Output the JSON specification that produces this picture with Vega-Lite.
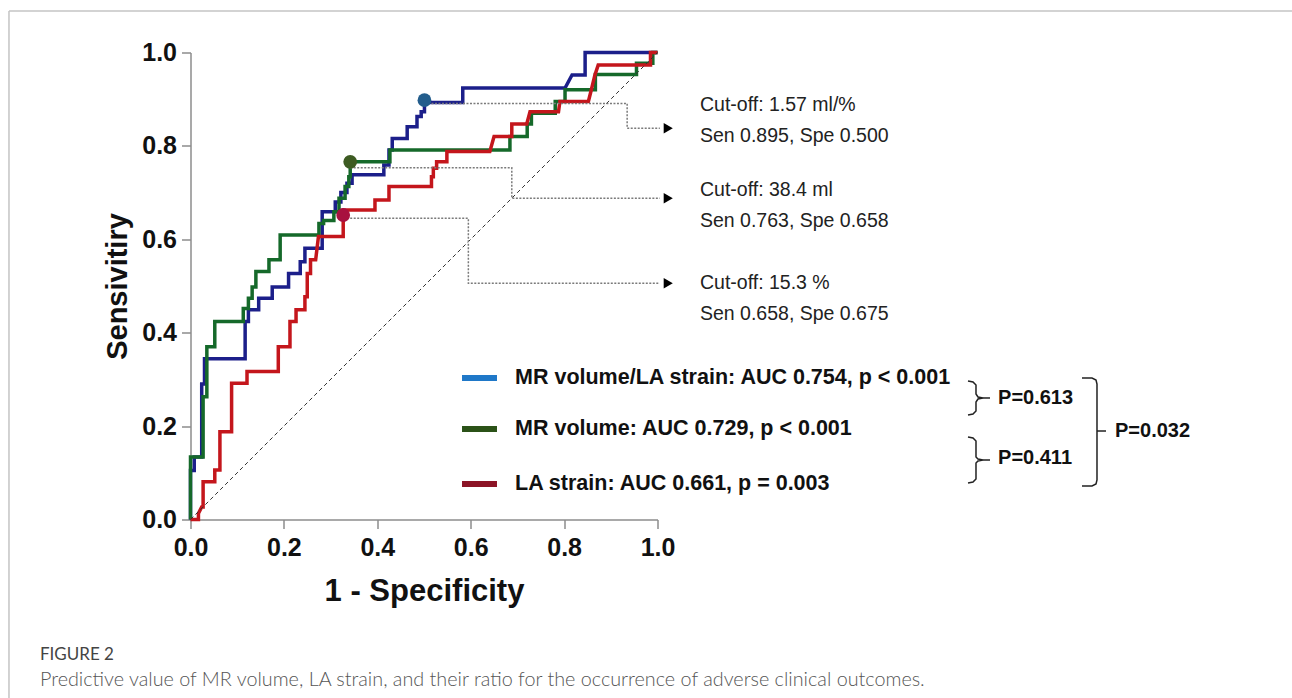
{
  "$schema": "https://vega.github.io/schema/vega-lite/v6.json",
  "width": 467,
  "height": 467,
  "autosize": {"type": "none"},
  "padding": {"left": 190.5, "top": 52.5, "right": 634.5, "bottom": 178.5},
  "background": "white",
  "config": {"view": {"stroke": null}, "font": "Liberation Sans"},
  "data": {"values": [{"one": 1}]},
  "datasets": {
    "roc": [
      {"series": "ratio", "i": 0, "fpr": 0, "tpr": 0},
      {"series": "ratio", "i": 1, "fpr": 0, "tpr": 0.105},
      {"series": "ratio", "i": 2, "fpr": 0.008, "tpr": 0.105},
      {"series": "ratio", "i": 3, "fpr": 0.008, "tpr": 0.134},
      {"series": "ratio", "i": 4, "fpr": 0.024, "tpr": 0.134},
      {"series": "ratio", "i": 5, "fpr": 0.024, "tpr": 0.29},
      {"series": "ratio", "i": 6, "fpr": 0.03, "tpr": 0.29},
      {"series": "ratio", "i": 7, "fpr": 0.03, "tpr": 0.344},
      {"series": "ratio", "i": 8, "fpr": 0.117, "tpr": 0.344},
      {"series": "ratio", "i": 9, "fpr": 0.117, "tpr": 0.424},
      {"series": "ratio", "i": 10, "fpr": 0.124, "tpr": 0.424},
      {"series": "ratio", "i": 11, "fpr": 0.124, "tpr": 0.449},
      {"series": "ratio", "i": 12, "fpr": 0.146, "tpr": 0.449},
      {"series": "ratio", "i": 13, "fpr": 0.146, "tpr": 0.474},
      {"series": "ratio", "i": 14, "fpr": 0.175, "tpr": 0.474},
      {"series": "ratio", "i": 15, "fpr": 0.175, "tpr": 0.498},
      {"series": "ratio", "i": 16, "fpr": 0.21, "tpr": 0.498},
      {"series": "ratio", "i": 17, "fpr": 0.21, "tpr": 0.527},
      {"series": "ratio", "i": 18, "fpr": 0.235, "tpr": 0.527},
      {"series": "ratio", "i": 19, "fpr": 0.235, "tpr": 0.552},
      {"series": "ratio", "i": 20, "fpr": 0.245, "tpr": 0.552},
      {"series": "ratio", "i": 21, "fpr": 0.245, "tpr": 0.581},
      {"series": "ratio", "i": 22, "fpr": 0.282, "tpr": 0.581},
      {"series": "ratio", "i": 23, "fpr": 0.282, "tpr": 0.659},
      {"series": "ratio", "i": 24, "fpr": 0.31, "tpr": 0.659},
      {"series": "ratio", "i": 25, "fpr": 0.31, "tpr": 0.68},
      {"series": "ratio", "i": 26, "fpr": 0.322, "tpr": 0.68},
      {"series": "ratio", "i": 27, "fpr": 0.322, "tpr": 0.7},
      {"series": "ratio", "i": 28, "fpr": 0.335, "tpr": 0.7},
      {"series": "ratio", "i": 29, "fpr": 0.335, "tpr": 0.72},
      {"series": "ratio", "i": 30, "fpr": 0.346, "tpr": 0.72},
      {"series": "ratio", "i": 31, "fpr": 0.346, "tpr": 0.738},
      {"series": "ratio", "i": 32, "fpr": 0.414, "tpr": 0.738},
      {"series": "ratio", "i": 33, "fpr": 0.414, "tpr": 0.759},
      {"series": "ratio", "i": 34, "fpr": 0.425, "tpr": 0.759},
      {"series": "ratio", "i": 35, "fpr": 0.425, "tpr": 0.791},
      {"series": "ratio", "i": 36, "fpr": 0.432, "tpr": 0.791},
      {"series": "ratio", "i": 37, "fpr": 0.432, "tpr": 0.816},
      {"series": "ratio", "i": 38, "fpr": 0.464, "tpr": 0.816},
      {"series": "ratio", "i": 39, "fpr": 0.464, "tpr": 0.841},
      {"series": "ratio", "i": 40, "fpr": 0.485, "tpr": 0.841},
      {"series": "ratio", "i": 41, "fpr": 0.485, "tpr": 0.863},
      {"series": "ratio", "i": 42, "fpr": 0.494, "tpr": 0.863},
      {"series": "ratio", "i": 43, "fpr": 0.494, "tpr": 0.873},
      {"series": "ratio", "i": 44, "fpr": 0.501, "tpr": 0.873},
      {"series": "ratio", "i": 45, "fpr": 0.501, "tpr": 0.893},
      {"series": "ratio", "i": 46, "fpr": 0.583, "tpr": 0.893},
      {"series": "ratio", "i": 47, "fpr": 0.583, "tpr": 0.924},
      {"series": "ratio", "i": 48, "fpr": 0.802, "tpr": 0.924},
      {"series": "ratio", "i": 49, "fpr": 0.817, "tpr": 0.952},
      {"series": "ratio", "i": 50, "fpr": 0.845, "tpr": 0.952},
      {"series": "ratio", "i": 51, "fpr": 0.845, "tpr": 1.0},
      {"series": "ratio", "i": 52, "fpr": 1.0, "tpr": 1.0},
      {"series": "volume", "i": 0, "fpr": 0, "tpr": 0},
      {"series": "volume", "i": 1, "fpr": 0, "tpr": 0.134},
      {"series": "volume", "i": 2, "fpr": 0.027, "tpr": 0.134},
      {"series": "volume", "i": 3, "fpr": 0.027, "tpr": 0.263},
      {"series": "volume", "i": 4, "fpr": 0.035, "tpr": 0.263},
      {"series": "volume", "i": 5, "fpr": 0.035, "tpr": 0.37},
      {"series": "volume", "i": 6, "fpr": 0.052, "tpr": 0.37},
      {"series": "volume", "i": 7, "fpr": 0.052, "tpr": 0.424},
      {"series": "volume", "i": 8, "fpr": 0.113, "tpr": 0.424},
      {"series": "volume", "i": 9, "fpr": 0.113, "tpr": 0.452},
      {"series": "volume", "i": 10, "fpr": 0.124, "tpr": 0.452},
      {"series": "volume", "i": 11, "fpr": 0.124, "tpr": 0.474},
      {"series": "volume", "i": 12, "fpr": 0.132, "tpr": 0.474},
      {"series": "volume", "i": 13, "fpr": 0.132, "tpr": 0.498},
      {"series": "volume", "i": 14, "fpr": 0.14, "tpr": 0.498},
      {"series": "volume", "i": 15, "fpr": 0.14, "tpr": 0.531},
      {"series": "volume", "i": 16, "fpr": 0.168, "tpr": 0.531},
      {"series": "volume", "i": 17, "fpr": 0.168, "tpr": 0.556},
      {"series": "volume", "i": 18, "fpr": 0.192, "tpr": 0.556},
      {"series": "volume", "i": 19, "fpr": 0.192, "tpr": 0.609},
      {"series": "volume", "i": 20, "fpr": 0.275, "tpr": 0.609},
      {"series": "volume", "i": 21, "fpr": 0.275, "tpr": 0.634},
      {"series": "volume", "i": 22, "fpr": 0.285, "tpr": 0.634},
      {"series": "volume", "i": 23, "fpr": 0.285, "tpr": 0.64},
      {"series": "volume", "i": 24, "fpr": 0.307, "tpr": 0.64},
      {"series": "volume", "i": 25, "fpr": 0.307, "tpr": 0.659},
      {"series": "volume", "i": 26, "fpr": 0.318, "tpr": 0.659},
      {"series": "volume", "i": 27, "fpr": 0.318, "tpr": 0.688},
      {"series": "volume", "i": 28, "fpr": 0.331, "tpr": 0.688},
      {"series": "volume", "i": 29, "fpr": 0.331, "tpr": 0.713},
      {"series": "volume", "i": 30, "fpr": 0.339, "tpr": 0.713},
      {"series": "volume", "i": 31, "fpr": 0.339, "tpr": 0.734},
      {"series": "volume", "i": 32, "fpr": 0.342, "tpr": 0.734},
      {"series": "volume", "i": 33, "fpr": 0.342, "tpr": 0.766},
      {"series": "volume", "i": 34, "fpr": 0.427, "tpr": 0.766},
      {"series": "volume", "i": 35, "fpr": 0.427, "tpr": 0.791},
      {"series": "volume", "i": 36, "fpr": 0.684, "tpr": 0.791},
      {"series": "volume", "i": 37, "fpr": 0.684, "tpr": 0.82},
      {"series": "volume", "i": 38, "fpr": 0.721, "tpr": 0.82},
      {"series": "volume", "i": 39, "fpr": 0.721, "tpr": 0.847},
      {"series": "volume", "i": 40, "fpr": 0.73, "tpr": 0.847},
      {"series": "volume", "i": 41, "fpr": 0.73, "tpr": 0.87},
      {"series": "volume", "i": 42, "fpr": 0.781, "tpr": 0.87},
      {"series": "volume", "i": 43, "fpr": 0.781, "tpr": 0.895},
      {"series": "volume", "i": 44, "fpr": 0.802, "tpr": 0.895},
      {"series": "volume", "i": 45, "fpr": 0.802, "tpr": 0.92},
      {"series": "volume", "i": 46, "fpr": 0.867, "tpr": 0.92},
      {"series": "volume", "i": 47, "fpr": 0.867, "tpr": 0.953},
      {"series": "volume", "i": 48, "fpr": 0.955, "tpr": 0.953},
      {"series": "volume", "i": 49, "fpr": 0.955, "tpr": 0.977},
      {"series": "volume", "i": 50, "fpr": 0.99, "tpr": 0.977},
      {"series": "volume", "i": 51, "fpr": 0.99, "tpr": 1.0},
      {"series": "volume", "i": 52, "fpr": 1.0, "tpr": 1.0},
      {"series": "strain", "i": 0, "fpr": 0, "tpr": 0},
      {"series": "strain", "i": 1, "fpr": 0.017, "tpr": 0},
      {"series": "strain", "i": 2, "fpr": 0.017, "tpr": 0.013},
      {"series": "strain", "i": 3, "fpr": 0.024, "tpr": 0.027},
      {"series": "strain", "i": 4, "fpr": 0.027, "tpr": 0.027},
      {"series": "strain", "i": 5, "fpr": 0.027, "tpr": 0.081},
      {"series": "strain", "i": 6, "fpr": 0.052, "tpr": 0.081},
      {"series": "strain", "i": 7, "fpr": 0.052, "tpr": 0.106},
      {"series": "strain", "i": 8, "fpr": 0.063, "tpr": 0.106},
      {"series": "strain", "i": 9, "fpr": 0.063, "tpr": 0.188},
      {"series": "strain", "i": 10, "fpr": 0.088, "tpr": 0.188},
      {"series": "strain", "i": 11, "fpr": 0.088, "tpr": 0.292},
      {"series": "strain", "i": 12, "fpr": 0.121, "tpr": 0.292},
      {"series": "strain", "i": 13, "fpr": 0.121, "tpr": 0.317},
      {"series": "strain", "i": 14, "fpr": 0.188, "tpr": 0.317},
      {"series": "strain", "i": 15, "fpr": 0.188, "tpr": 0.37},
      {"series": "strain", "i": 16, "fpr": 0.213, "tpr": 0.37},
      {"series": "strain", "i": 17, "fpr": 0.213, "tpr": 0.424},
      {"series": "strain", "i": 18, "fpr": 0.226, "tpr": 0.424},
      {"series": "strain", "i": 19, "fpr": 0.226, "tpr": 0.449},
      {"series": "strain", "i": 20, "fpr": 0.245, "tpr": 0.449},
      {"series": "strain", "i": 21, "fpr": 0.245, "tpr": 0.477},
      {"series": "strain", "i": 22, "fpr": 0.25, "tpr": 0.477},
      {"series": "strain", "i": 23, "fpr": 0.25, "tpr": 0.527},
      {"series": "strain", "i": 24, "fpr": 0.257, "tpr": 0.527},
      {"series": "strain", "i": 25, "fpr": 0.257, "tpr": 0.556},
      {"series": "strain", "i": 26, "fpr": 0.268, "tpr": 0.556},
      {"series": "strain", "i": 27, "fpr": 0.274, "tpr": 0.606},
      {"series": "strain", "i": 28, "fpr": 0.327, "tpr": 0.606},
      {"series": "strain", "i": 29, "fpr": 0.327, "tpr": 0.663},
      {"series": "strain", "i": 30, "fpr": 0.395, "tpr": 0.663},
      {"series": "strain", "i": 31, "fpr": 0.395, "tpr": 0.684},
      {"series": "strain", "i": 32, "fpr": 0.425, "tpr": 0.684},
      {"series": "strain", "i": 33, "fpr": 0.425, "tpr": 0.713},
      {"series": "strain", "i": 34, "fpr": 0.516, "tpr": 0.713},
      {"series": "strain", "i": 35, "fpr": 0.516, "tpr": 0.734},
      {"series": "strain", "i": 36, "fpr": 0.52, "tpr": 0.734},
      {"series": "strain", "i": 37, "fpr": 0.52, "tpr": 0.752},
      {"series": "strain", "i": 38, "fpr": 0.527, "tpr": 0.752},
      {"series": "strain", "i": 39, "fpr": 0.527, "tpr": 0.766},
      {"series": "strain", "i": 40, "fpr": 0.549, "tpr": 0.766},
      {"series": "strain", "i": 41, "fpr": 0.549, "tpr": 0.788},
      {"series": "strain", "i": 42, "fpr": 0.641, "tpr": 0.788},
      {"series": "strain", "i": 43, "fpr": 0.65, "tpr": 0.82},
      {"series": "strain", "i": 44, "fpr": 0.688, "tpr": 0.82},
      {"series": "strain", "i": 45, "fpr": 0.688, "tpr": 0.847},
      {"series": "strain", "i": 46, "fpr": 0.72, "tpr": 0.847},
      {"series": "strain", "i": 47, "fpr": 0.727, "tpr": 0.873},
      {"series": "strain", "i": 48, "fpr": 0.788, "tpr": 0.873},
      {"series": "strain", "i": 49, "fpr": 0.791, "tpr": 0.895},
      {"series": "strain", "i": 50, "fpr": 0.852, "tpr": 0.895},
      {"series": "strain", "i": 51, "fpr": 0.859, "tpr": 0.923},
      {"series": "strain", "i": 52, "fpr": 0.866, "tpr": 0.952},
      {"series": "strain", "i": 53, "fpr": 0.873, "tpr": 0.973},
      {"series": "strain", "i": 54, "fpr": 0.985, "tpr": 0.973},
      {"series": "strain", "i": 55, "fpr": 0.985, "tpr": 1.0},
      {"series": "strain", "i": 56, "fpr": 1.0, "tpr": 1.0}
    ],
    "cut": [
      {"series": "ratio", "fpr": 0.501, "tpr": 0.898},
      {"series": "volume", "fpr": 0.342, "tpr": 0.766},
      {"series": "strain", "fpr": 0.327, "tpr": 0.652}
    ],
    "conn": [
      {"g": 1, "i": 0, "fpr": 0.501, "tpr": 0.891},
      {"g": 1, "i": 1, "fpr": 0.935, "tpr": 0.891},
      {"g": 1, "i": 2, "fpr": 0.935, "tpr": 0.838},
      {"g": 1, "i": 3, "fpr": 1.005, "tpr": 0.838},
      {"g": 2, "i": 0, "fpr": 0.342, "tpr": 0.753},
      {"g": 2, "i": 1, "fpr": 0.688, "tpr": 0.753},
      {"g": 2, "i": 2, "fpr": 0.688, "tpr": 0.688},
      {"g": 2, "i": 3, "fpr": 1.005, "tpr": 0.688},
      {"g": 3, "i": 0, "fpr": 0.327, "tpr": 0.645},
      {"g": 3, "i": 1, "fpr": 0.595, "tpr": 0.645},
      {"g": 3, "i": 2, "fpr": 0.595, "tpr": 0.506},
      {"g": 3, "i": 3, "fpr": 1.005, "tpr": 0.506}
    ],
    "arrows": [
      {"fpr": 1.023, "tpr": 0.838},
      {"fpr": 1.023, "tpr": 0.688},
      {"fpr": 1.023, "tpr": 0.506}
    ],
    "brackets": [
      {"b": "a", "i": 0, "fpr": 1.6649, "tpr": 0.2966},
      {"b": "a", "i": 1, "fpr": 1.6756, "tpr": 0.2944},
      {"b": "a", "i": 2, "fpr": 1.682, "tpr": 0.288},
      {"b": "a", "i": 3, "fpr": 1.682, "tpr": 0.2687},
      {"b": "a", "i": 4, "fpr": 1.6863, "tpr": 0.2623},
      {"b": "a", "i": 5, "fpr": 1.697, "tpr": 0.2602},
      {"b": "a", "i": 6, "fpr": 1.6863, "tpr": 0.258},
      {"b": "a", "i": 7, "fpr": 1.682, "tpr": 0.2516},
      {"b": "a", "i": 8, "fpr": 1.682, "tpr": 0.2323},
      {"b": "a", "i": 9, "fpr": 1.6756, "tpr": 0.2259},
      {"b": "a", "i": 10, "fpr": 1.6649, "tpr": 0.2238},
      {"b": "at", "i": 0, "fpr": 1.697, "tpr": 0.2602},
      {"b": "at", "i": 1, "fpr": 1.712, "tpr": 0.2602},
      {"b": "c", "i": 0, "fpr": 1.6649, "tpr": 0.1767},
      {"b": "c", "i": 1, "fpr": 1.6756, "tpr": 0.1745},
      {"b": "c", "i": 2, "fpr": 1.682, "tpr": 0.1681},
      {"b": "c", "i": 3, "fpr": 1.682, "tpr": 0.1338},
      {"b": "c", "i": 4, "fpr": 1.6863, "tpr": 0.1296},
      {"b": "c", "i": 5, "fpr": 1.697, "tpr": 0.1274},
      {"b": "c", "i": 6, "fpr": 1.6863, "tpr": 0.1253},
      {"b": "c", "i": 7, "fpr": 1.682, "tpr": 0.121},
      {"b": "c", "i": 8, "fpr": 1.682, "tpr": 0.0867},
      {"b": "c", "i": 9, "fpr": 1.6756, "tpr": 0.0803},
      {"b": "c", "i": 10, "fpr": 1.6649, "tpr": 0.0782},
      {"b": "ct", "i": 0, "fpr": 1.697, "tpr": 0.1274},
      {"b": "ct", "i": 1, "fpr": 1.712, "tpr": 0.1274},
      {"b": "e", "i": 0, "fpr": 1.909, "tpr": 0.303},
      {"b": "e", "i": 1, "fpr": 1.9304, "tpr": 0.303},
      {"b": "e", "i": 2, "fpr": 1.939, "tpr": 0.2987},
      {"b": "e", "i": 3, "fpr": 1.9411, "tpr": 0.2901},
      {"b": "e", "i": 4, "fpr": 1.9411, "tpr": 0.0846},
      {"b": "e", "i": 5, "fpr": 1.939, "tpr": 0.076},
      {"b": "e", "i": 6, "fpr": 1.9304, "tpr": 0.0717},
      {"b": "e", "i": 7, "fpr": 1.909, "tpr": 0.0717},
      {"b": "et", "i": 0, "fpr": 1.9411, "tpr": 0.1895},
      {"b": "et", "i": 1, "fpr": 1.9604, "tpr": 0.1895}
    ]
  },
  "layer": [
    {
      "data": {"name": "roc"},
      "mark": {"type": "line", "strokeWidth": 3.5, "strokeJoin": "miter"},
      "encoding": {
        "x": {
          "field": "fpr", "type": "quantitative",
          "scale": {"domain": [0, 1], "nice": false, "zero": false},
          "axis": {
            "title": "1 - Specificity", "values": [0, 0.2, 0.4, 0.6, 0.8, 1.0], "format": ".1f", "grid": false, "labelFlush": false,
            "domainColor": "#8c8c8c", "domainWidth": 1.5, "tickColor": "#8c8c8c", "tickWidth": 1.5, "tickSize": 9,
            "labelFont": "Liberation Sans", "labelFontWeight": "bold", "labelFontSize": 25, "labelColor": "#111111", "labelPadding": 7,
            "titleFont": "Liberation Sans", "titleFontWeight": "bold", "titleFontSize": 31, "titleColor": "#111111", "titlePadding": 16
          }
        },
        "y": {
          "field": "tpr", "type": "quantitative",
          "scale": {"domain": [0, 1], "nice": false, "zero": false},
          "axis": {
            "title": "Sensivitiry", "values": [0, 0.2, 0.4, 0.6, 0.8, 1.0], "format": ".1f", "grid": false, "labelFlush": false,
            "domainColor": "#8c8c8c", "domainWidth": 1.5, "tickColor": "#8c8c8c", "tickWidth": 1.5, "tickSize": 9,
            "labelFont": "Liberation Sans", "labelFontWeight": "bold", "labelFontSize": 25, "labelColor": "#111111", "labelPadding": 5,
            "titleFont": "Liberation Sans", "titleFontWeight": "bold", "titleFontSize": 29, "titleColor": "#111111", "titlePadding": 9
          }
        },
        "stroke": {
          "field": "series", "type": "nominal",
          "scale": {"domain": ["strain", "volume", "ratio"], "range": ["#c4161c", "#15692a", "#1c1f8a"]},
          "legend": null
        },
        "order": {"field": "i", "type": "quantitative"}
      }
    },
    {
      "mark": {"type": "rule", "color": "#c4c4c4", "strokeWidth": 1.5},
      "encoding": {
        "x": {"datum": -0.3887, "type": "quantitative"},
        "x2": {"datum": 2.36},
        "y": {"datum": 1.0889, "type": "quantitative"}
      }
    },
    {
      "mark": {"type": "rule", "color": "#c4c4c4", "strokeWidth": 1.5},
      "encoding": {
        "x": {"datum": -0.3887, "type": "quantitative"},
        "y": {"datum": 1.0889, "type": "quantitative"},
        "y2": {"datum": -0.39}
      }
    },
    {
      "mark": {"type": "rule", "color": "#333333", "strokeWidth": 1, "strokeDash": [4, 3]},
      "encoding": {
        "x": {"datum": 0, "type": "quantitative"},
        "y": {"datum": 0, "type": "quantitative"},
        "x2": {"datum": 1},
        "y2": {"datum": 1}
      }
    },
    {
      "data": {"name": "conn"},
      "mark": {"type": "line", "color": "#7a7a7a", "strokeWidth": 1.5, "strokeDash": [2, 1.5]},
      "encoding": {
        "x": {"field": "fpr", "type": "quantitative"},
        "y": {"field": "tpr", "type": "quantitative"},
        "detail": {"field": "g", "type": "nominal"},
        "order": {"field": "i", "type": "quantitative"}
      }
    },
    {
      "data": {"name": "cut"},
      "mark": {"type": "point", "filled": true, "size": 190, "opacity": 1, "shape": "circle"},
      "encoding": {
        "x": {"field": "fpr", "type": "quantitative"},
        "y": {"field": "tpr", "type": "quantitative"},
        "fill": {
          "field": "series", "type": "nominal",
          "scale": {"domain": ["ratio", "volume", "strain"], "range": ["#235d8c", "#3d5b22", "#a8113f"]},
          "legend": null
        }
      }
    },
    {
      "data": {"name": "arrows"},
      "mark": {"type": "point", "filled": true, "shape": "triangle-right", "size": 110, "color": "#000000", "opacity": 1},
      "encoding": {
        "x": {"field": "fpr", "type": "quantitative"},
        "y": {"field": "tpr", "type": "quantitative"}
      }
    },
    {
      "mark": {"type": "text", "align": "left", "baseline": "middle", "font": "Liberation Sans", "fontSize": 19.5, "lineHeight": 31, "color": "#222222"},
      "encoding": {
        "x": {"datum": 1.091, "type": "quantitative"},
        "y": {"datum": 0.8876, "type": "quantitative"},
        "text": {"value": ["Cut-off:  1.57 ml/%", "Sen 0.895, Spe 0.500"]}
      }
    },
    {
      "mark": {"type": "text", "align": "left", "baseline": "middle", "font": "Liberation Sans", "fontSize": 19.5, "lineHeight": 31, "color": "#222222"},
      "encoding": {
        "x": {"datum": 1.091, "type": "quantitative"},
        "y": {"datum": 0.7056, "type": "quantitative"},
        "text": {"value": ["Cut-off:  38.4 ml", "Sen 0.763, Spe 0.658"]}
      }
    },
    {
      "mark": {"type": "text", "align": "left", "baseline": "middle", "font": "Liberation Sans", "fontSize": 19.5, "lineHeight": 31, "color": "#222222"},
      "encoding": {
        "x": {"datum": 1.091, "type": "quantitative"},
        "y": {"datum": 0.5064, "type": "quantitative"},
        "text": {"value": ["Cut-off:  15.3 %", "Sen 0.658, Spe 0.675"]}
      }
    },
    {
      "mark": {"type": "rule", "color": "#1f78c8", "strokeWidth": 6},
      "encoding": {
        "x": {"datum": 0.5814, "type": "quantitative"},
        "x2": {"datum": 0.6563},
        "y": {"datum": 0.303, "type": "quantitative"}
      }
    },
    {
      "mark": {"type": "rule", "color": "#2b5218", "strokeWidth": 6},
      "encoding": {
        "x": {"datum": 0.5814, "type": "quantitative"},
        "x2": {"datum": 0.6563},
        "y": {"datum": 0.1938, "type": "quantitative"}
      }
    },
    {
      "mark": {"type": "rule", "color": "#8c1426", "strokeWidth": 6},
      "encoding": {
        "x": {"datum": 0.5814, "type": "quantitative"},
        "x2": {"datum": 0.6563},
        "y": {"datum": 0.076, "type": "quantitative"}
      }
    },
    {
      "mark": {"type": "text", "align": "left", "baseline": "middle", "font": "Liberation Sans", "fontWeight": "bold", "fontSize": 21.5, "color": "#111111"},
      "encoding": {
        "x": {"datum": 0.6949, "type": "quantitative"},
        "y": {"datum": 0.303, "type": "quantitative"},
        "text": {"value": "MR volume/LA strain: AUC 0.754, p < 0.001"}
      }
    },
    {
      "mark": {"type": "text", "align": "left", "baseline": "middle", "font": "Liberation Sans", "fontWeight": "bold", "fontSize": 21.5, "color": "#111111"},
      "encoding": {
        "x": {"datum": 0.6949, "type": "quantitative"},
        "y": {"datum": 0.1938, "type": "quantitative"},
        "text": {"value": "MR volume: AUC 0.729, p < 0.001"}
      }
    },
    {
      "mark": {"type": "text", "align": "left", "baseline": "middle", "font": "Liberation Sans", "fontWeight": "bold", "fontSize": 21.5, "color": "#111111"},
      "encoding": {
        "x": {"datum": 0.6949, "type": "quantitative"},
        "y": {"datum": 0.076, "type": "quantitative"},
        "text": {"value": "LA strain: AUC 0.661, p = 0.003"}
      }
    },
    {
      "data": {"name": "brackets"},
      "mark": {"type": "line", "color": "#222222", "strokeWidth": 1.5},
      "encoding": {
        "x": {"field": "fpr", "type": "quantitative"},
        "y": {"field": "tpr", "type": "quantitative"},
        "detail": {"field": "b", "type": "nominal"},
        "order": {"field": "i", "type": "quantitative"}
      }
    },
    {
      "mark": {"type": "text", "align": "left", "baseline": "middle", "font": "Liberation Sans", "fontWeight": "bold", "fontSize": 20, "color": "#111111"},
      "encoding": {
        "x": {"datum": 1.7292, "type": "quantitative"},
        "y": {"datum": 0.2602, "type": "quantitative"},
        "text": {"value": "P=0.613"}
      }
    },
    {
      "mark": {"type": "text", "align": "left", "baseline": "middle", "font": "Liberation Sans", "fontWeight": "bold", "fontSize": 20, "color": "#111111"},
      "encoding": {
        "x": {"datum": 1.7292, "type": "quantitative"},
        "y": {"datum": 0.1317, "type": "quantitative"},
        "text": {"value": "P=0.411"}
      }
    },
    {
      "mark": {"type": "text", "align": "left", "baseline": "middle", "font": "Liberation Sans", "fontWeight": "bold", "fontSize": 20, "color": "#111111"},
      "encoding": {
        "x": {"datum": 1.9797, "type": "quantitative"},
        "y": {"datum": 0.1895, "type": "quantitative"},
        "text": {"value": "P=0.032"}
      }
    },
    {
      "mark": {"type": "text", "align": "left", "baseline": "middle", "font": "Lato", "fontSize": 17, "color": "#444444"},
      "encoding": {
        "x": {"datum": -0.3223, "type": "quantitative"},
        "y": {"datum": -0.2901, "type": "quantitative"},
        "text": {"value": "FIGURE 2"}
      }
    },
    {
      "mark": {"type": "text", "align": "left", "baseline": "middle", "font": "Lato", "fontWeight": 300, "fontSize": 19.8, "color": "#555555"},
      "encoding": {
        "x": {"datum": -0.3223, "type": "quantitative"},
        "y": {"datum": -0.3437, "type": "quantitative"},
        "text": {"value": "Predictive value of MR volume, LA strain, and their ratio for the occurrence of adverse clinical outcomes."}
      }
    }
  ]
}
